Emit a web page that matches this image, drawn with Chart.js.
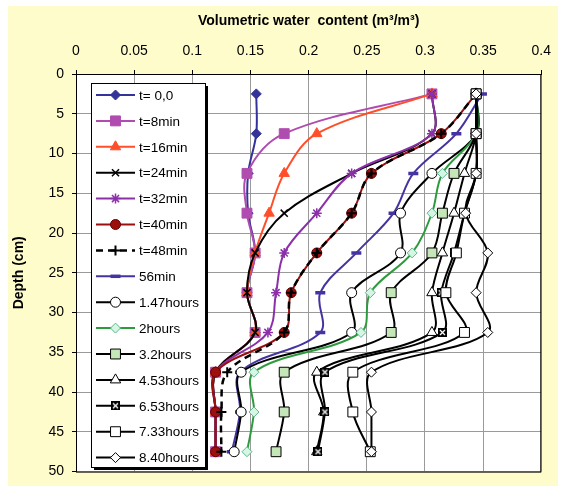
<!DOCTYPE html>
<html>
<head>
<meta charset="utf-8">
<script src="https://cdn.jsdelivr.net/npm/chart.js@4.4.1/dist/chart.umd.min.js"></script>
<style>
  html, body { margin: 0; padding: 0; background: #fff; }
  canvas { display: block; }
</style>
</head>
<body>
<canvas id="profileChart" width="561" height="488"></canvas>
<script>
// Depths of the measuring points (cm)
const depths = [2.5, 7.5, 12.5, 17.5, 22.5, 27.5, 32.5, 37.5, 42.5, 47.5];

// Volumetric water content at each depth, one list per time step
const t0min   = [0.155, 0.155, 0.148, 0.148, 0.154, 0.147, 0.154, 0.120, 0.120, 0.120];
const t8min   = [0.306, 0.179, 0.147, 0.147, 0.154, 0.147, 0.154, 0.120, 0.120, 0.120];
const t16min  = [0.306, 0.207, 0.179, 0.166, 0.154, 0.147, 0.154, 0.120, 0.120, 0.120];
const t24min  = [0.306, 0.306, 0.237, 0.179, 0.154, 0.147, 0.154, 0.120, 0.120, 0.120];
const t32min  = [0.306, 0.306, 0.237, 0.207, 0.179, 0.172, 0.165, 0.120, 0.120, 0.120];
const t40min  = [0.344, 0.314, 0.254, 0.237, 0.207, 0.185, 0.179, 0.120, 0.120, 0.120];
const t48min  = [0.344, 0.314, 0.254, 0.237, 0.207, 0.185, 0.179, 0.130, 0.125, 0.125];
const t56min  = [0.349, 0.327, 0.290, 0.273, 0.241, 0.210, 0.210, 0.141, 0.141, 0.134];
const t147h   = [0.344, 0.344, 0.306, 0.279, 0.279, 0.237, 0.237, 0.142, 0.142, 0.136];
const t2h     = [0.344, 0.344, 0.315, 0.306, 0.289, 0.253, 0.245, 0.153, 0.153, 0.147];
const t32h    = [0.344, 0.344, 0.325, 0.315, 0.306, 0.271, 0.271, 0.179, 0.179, 0.172];
const t453h   = [0.344, 0.344, 0.334, 0.325, 0.315, 0.306, 0.306, 0.207, 0.213, 0.207];
const t653h   = [0.344, 0.344, 0.344, 0.334, 0.325, 0.314, 0.315, 0.214, 0.214, 0.208];
const t733h   = [0.344, 0.344, 0.344, 0.334, 0.327, 0.318, 0.334, 0.238, 0.238, 0.253];
const t840h   = [0.344, 0.344, 0.344, 0.335, 0.354, 0.344, 0.354, 0.254, 0.254, 0.254];

// Axis ticks
const xTicks = [0, 0.05, 0.1, 0.15, 0.2, 0.25, 0.3, 0.35, 0.4];
const yTicks = [0, 5, 10, 15, 20, 25, 30, 35, 40, 45, 50];

const FONT = '"Liberation Sans", Arial, sans-serif';

// small black box with white cross, used for 6.53 hours
function boxCross() {
    const c = document.createElement('canvas');
    c.width = 9; c.height = 9;
    const g = c.getContext('2d');
    g.fillStyle = '#000';
    g.fillRect(0, 0, 9, 9);
    g.strokeStyle = '#fff';
    g.lineWidth = 1.3;
    g.beginPath();
    g.moveTo(2, 2); g.lineTo(7, 7);
    g.moveTo(7, 2); g.lineTo(2, 7);
    g.stroke();
    return c;
}

// series styles
const series = [
    { label: 't= 0,0',     data: t0min,  color: '#333399', style: 'rectRot',  r: 5, fill: '#333399', border: '#333399', bw: 1 },
    { label: 't=8min',     data: t8min,  color: '#B04CB0', style: 'rect',     r: 7, fill: '#B04CB0', border: '#B04CB0', bw: 1 },
    { label: 't=16min',    data: t16min, color: '#FF4F2A', style: 'triangle', r: 6, fill: '#FF4F2A', border: '#FF4F2A', bw: 1 },
    { label: 't=24min',    data: t24min, color: '#000000', style: 'crossRot', r: 5, fill: '#000', border: '#000', bw: 1.5 },
    { label: 't=32min',    data: t32min, color: '#8B30A8', style: 'star',     r: 5, fill: '#8B30A8', border: '#8B30A8', bw: 1.5 },
    { label: 't=40min',    data: t40min, color: '#9B0F0F', style: 'circle',   r: 5, fill: '#9B0F0F', border: '#6B0000', bw: 1 },
    { label: 't=48min',    data: t48min, color: '#000000', style: 'cross',    r: 5, fill: '#000', border: '#000', bw: 2, dash: [7, 5], width: 2.5 },
    { label: '56min',      data: t56min, color: '#4433A0', style: 'line',     r: 5, fill: '#4433A0', border: '#4433A0', bw: 3.5 },
    { label: '1.47hours',  data: t147h,  color: '#000000', style: 'circle',   r: 5, fill: '#fff', border: '#000', bw: 1 },
    { label: '2hours',     data: t2h,    color: '#2E9A3E', style: 'rectRot',  r: 5, fill: '#D4F6E2', border: '#5CB890', bw: 1 },
    { label: '3.2hours',   data: t32h,   color: '#000000', style: 'rect',     r: 7, fill: '#C4E6B8', border: '#000', bw: 1 },
    { label: '4.53hours',  data: t453h,  color: '#000000', style: 'triangle', r: 6, fill: '#fff', border: '#000', bw: 1 },
    { label: '6.53hours',  data: t653h,  color: '#000000', style: boxCross(), r: 5, fill: '#000', border: '#000', bw: 1 },
    { label: '7.33hours',  data: t733h,  color: '#000000', style: 'rect',     r: 7, fill: '#fff', border: '#000', bw: 1 },
    { label: '8.40hours',  data: t840h,  color: '#000000', style: 'rectRot',  r: 5, fill: '#fff', border: '#000', bw: 1 }
];

const datasets = series.map((s, i) => ({
    label: s.label,
    data: depths.map((d, k) => ({ x: s.data[k], y: d })),
    showLine: true,
    tension: 0.35,
    borderColor: s.color,
    borderWidth: s.width || 2,
    borderDash: s.dash || [],
    pointStyle: s.style,
    pointRadius: s.r,
    pointBackgroundColor: s.fill,
    pointBorderColor: s.border,
    pointBorderWidth: s.bw,
    order: -i
}));

// cream background + white plot area
const backdrop = {
    id: 'backdrop',
    beforeDraw(chart) {
        const { ctx, chartArea: a } = chart;
        ctx.save();
        ctx.fillStyle = '#ffffff';
        ctx.fillRect(0, 0, chart.width, chart.height);
        ctx.fillStyle = '#FFFCCC';
        ctx.fillRect(8, 6, 550, 480);
        ctx.fillStyle = '#ffffff';
        ctx.fillRect(a.left, a.top, a.right - a.left, a.bottom - a.top);
        ctx.restore();
    }
};

// plot frame and boxed legend inside the plot
const frameAndLegend = {
    id: 'frameAndLegend',
    afterDraw(chart) {
        const { ctx, chartArea: a } = chart;
        ctx.save();
        ctx.strokeStyle = '#000';
        ctx.lineWidth = 1;
        ctx.strokeRect(a.left + 0.5, a.top + 0.5, a.right - a.left - 1, a.bottom - a.top);

        const box = { x: 91, y: 83, w: 114, h: 384 };
        ctx.fillStyle = '#000';
        ctx.fillRect(box.x + 3, box.y + 3, box.w, box.h);
        ctx.fillStyle = '#fff';
        ctx.fillRect(box.x, box.y, box.w, box.h);
        ctx.strokeRect(box.x + 0.5, box.y + 0.5, box.w, box.h);

        ctx.font = '13.5px ' + FONT;
        ctx.textBaseline = 'middle';
        ctx.textAlign = 'left';
        series.forEach((s, i) => {
            const y = 95 + i * 25.9;
            ctx.strokeStyle = s.color;
            ctx.lineWidth = s.width || 2;
            ctx.setLineDash(s.dash || []);
            ctx.beginPath();
            ctx.moveTo(96, y);
            ctx.lineTo(135, y);
            ctx.stroke();
            ctx.setLineDash([]);
            ctx.fillStyle = s.fill;
            ctx.strokeStyle = s.border;
            ctx.lineWidth = s.bw;
            Chart.helpers.drawPoint(ctx, { pointStyle: s.style, radius: s.r, borderWidth: s.bw, rotation: 0 }, 115.5, y);
            ctx.fillStyle = '#000';
            ctx.fillText(s.label, 139, y + 1);
        });
        ctx.restore();
    }
};

new Chart(document.getElementById('profileChart'), {
    type: 'scatter',
    data: { datasets },
    options: {
        responsive: false,
        animation: false,
        devicePixelRatio: 1,
        layout: { padding: { left: 8, top: 6, right: 11, bottom: 8 } },
        plugins: { legend: { display: false }, tooltip: { enabled: false } },
        scales: {
            x: {
                type: 'linear',
                position: 'top',
                min: xTicks[0],
                max: xTicks[xTicks.length - 1],
                afterBuildTicks: s => { s.ticks = xTicks.map(v => ({ value: v })); },
                afterFit: s => { s.height = 68; },
                ticks: {
                    callback: v => String(+v.toFixed(2)),
                    font: { family: FONT, size: 14 },
                    color: '#000',
                    padding: 10,
                    maxRotation: 0
                },
                grid: { color: '#9a9a9a', tickColor: '#000', tickLength: 4 },
                border: { color: '#000' },
                title: {
                    display: true,
                    text: 'Volumetric water  content (m³/m³)',
                    font: { family: FONT, size: 14, weight: 'bold' },
                    color: '#000',
                    padding: { top: 7, bottom: 0 }
                }
            },
            y: {
                type: 'linear',
                reverse: true,
                min: yTicks[0],
                max: yTicks[yTicks.length - 1],
                afterBuildTicks: s => { s.ticks = yTicks.map(v => ({ value: v })); },
                afterFit: s => { s.width = 68; },
                ticks: {
                    font: { family: FONT, size: 14 },
                    color: '#000',
                    padding: 8
                },
                grid: { color: '#9a9a9a', tickColor: '#000', tickLength: 4 },
                border: { color: '#000' },
                title: {
                    display: true,
                    text: 'Depth (cm)',
                    font: { family: FONT, size: 14, weight: 'bold' },
                    color: '#000',
                    padding: { top: 3, bottom: 0 }
                }
            }
        }
    },
    plugins: [backdrop, frameAndLegend]
});
</script>
</body>
</html>
